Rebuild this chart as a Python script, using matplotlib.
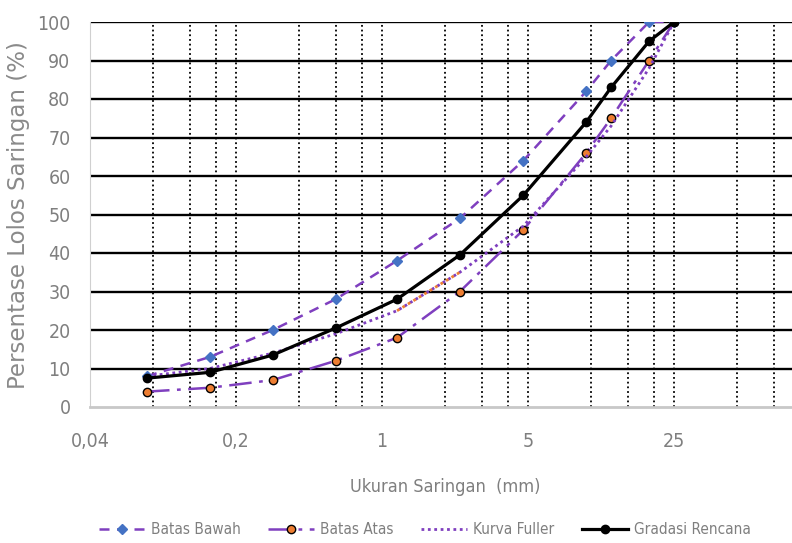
import matplotlib
matplotlib.use("Agg")
from matplotlib import pyplot as plt
from matplotlib.ticker import FixedLocator, NullFormatter, NullLocator

# ukuran saringan (mm)
sieve = [0.075, 0.15, 0.3, 0.6, 1.18, 2.36, 4.75, 9.5, 12.5, 19, 25]
batas_bawah = [8, 13, 20, 28, 38, 49, 64, 82, 90, 100, 100]
batas_atas = [4, 5, 7, 12, 18, 30, 46, 66, 75, 90, 100]
kurva_fuller = [8, 10, 14, 19, 25, 35, 47, 65, 73, 88, 100]
gradasi_rencana = [7.5, 9, 13.5, 20.5, 28, 39.5, 55, 74, 83, 95, 100]

x_ticks = [0.04, 0.2, 1, 5, 25]
x_tick_labels = ["0,04", "0,2", "1", "5", "25"]
y_ticks = [0, 10, 20, 30, 40, 50, 60, 70, 80, 90, 100]

gray = "#7f7f7f"
purple = "#7F3FBF"
cond = dict(family="DejaVu Sans", stretch="condensed")

fig = plt.figure(figsize=(7.92, 5.43), dpi=100)
ax = fig.add_axes([90 / 792, 1 - 407 / 543, 1 - 90 / 792, (407 - 22) / 543])

ax.set_xscale("log")
ax.set_xlim(0.04, 0.04 * 5 ** (702 / 146))
ax.set_ylim(0, 100)

# grid: vertikal titik-titik di 1,2,3,4 x pangkat 5, horizontal garis hitam
minor = []
for base in [0.04, 0.2, 1, 5, 25]:
    for m in [1, 2, 3, 4]:
        v = base * m
        if v > 0.04:
            minor.append(v)
for v in minor:
    ax.axvline(v, color="black", lw=1.3, ls=(0, (1, 1.6)), zorder=1)
for v in y_ticks[1:]:
    ax.axhline(v, color="black", lw=1.7, zorder=1)

ax.xaxis.set_major_locator(FixedLocator(x_ticks))
ax.xaxis.set_minor_locator(NullLocator())
ax.xaxis.set_minor_formatter(NullFormatter())
ax.set_xticklabels(x_tick_labels)
ax.set_yticks(y_ticks)
ax.tick_params(axis="both", length=0, labelsize=14, labelcolor=gray)
ax.tick_params(axis="x", pad=18)
ax.tick_params(axis="y", pad=14)
for lab in ax.get_xticklabels() + ax.get_yticklabels():
    lab.set_family("DejaVu Sans")
    lab.set_stretch("condensed")

for s in ["top", "right"]:
    ax.spines[s].set_visible(False)
ax.spines["left"].set_color("#d0d0d0")
ax.spines["bottom"].set_color("#c8c8c8")
ax.spines["bottom"].set_linewidth(2)

ax.plot(sieve, batas_bawah, color=purple, lw=1.8, ls=(0, (4, 3)),
        marker="D", ms=5, mfc="#4472C4", mec="#4472C4", label="Batas Bawah", zorder=3)
ax.plot(sieve, batas_atas, color=purple, lw=1.8, ls=(0, (9, 3, 1.5, 3)),
        marker="o", ms=6, mfc="#ED7D31", mec="black", mew=1, label="Batas Atas", zorder=3)
ax.plot(sieve, kurva_fuller, color=purple, lw=2, ls=(0, (1, 1.3)),
        label="Kurva Fuller", zorder=3)
ax.plot(sieve[4:6], kurva_fuller[4:6], color="#ED7D31", lw=2, ls=(0, (1, 1.3)), zorder=3)
ax.plot(sieve, gradasi_rencana, color="black", lw=2.3,
        marker="o", ms=6, label="Gradasi Rencana", zorder=4)

fig.text(19 / 792, 1 - 215 / 543, "Persentase Lolos Saringan (%)", rotation=90,
         ha="center", va="center", fontsize=16.5, color="#8a8a8a", family="DejaVu Sans")
fig.text(445 / 792, 1 - 487 / 543, "Ukuran Saringan  (mm)", ha="center", va="center",
         fontsize=13, color=gray, **cond)

leg = fig.legend(loc="center", bbox_to_anchor=(425 / 792, 1 - 530 / 543), ncol=4,
                 frameon=False, handlelength=3, columnspacing=1.8,
                 handletextpad=0.4, prop={"family": "DejaVu Sans", "stretch": "condensed", "size": 11})
for t in leg.get_texts():
    t.set_color(gray)

plt.savefig("out.png", dpi=100)
